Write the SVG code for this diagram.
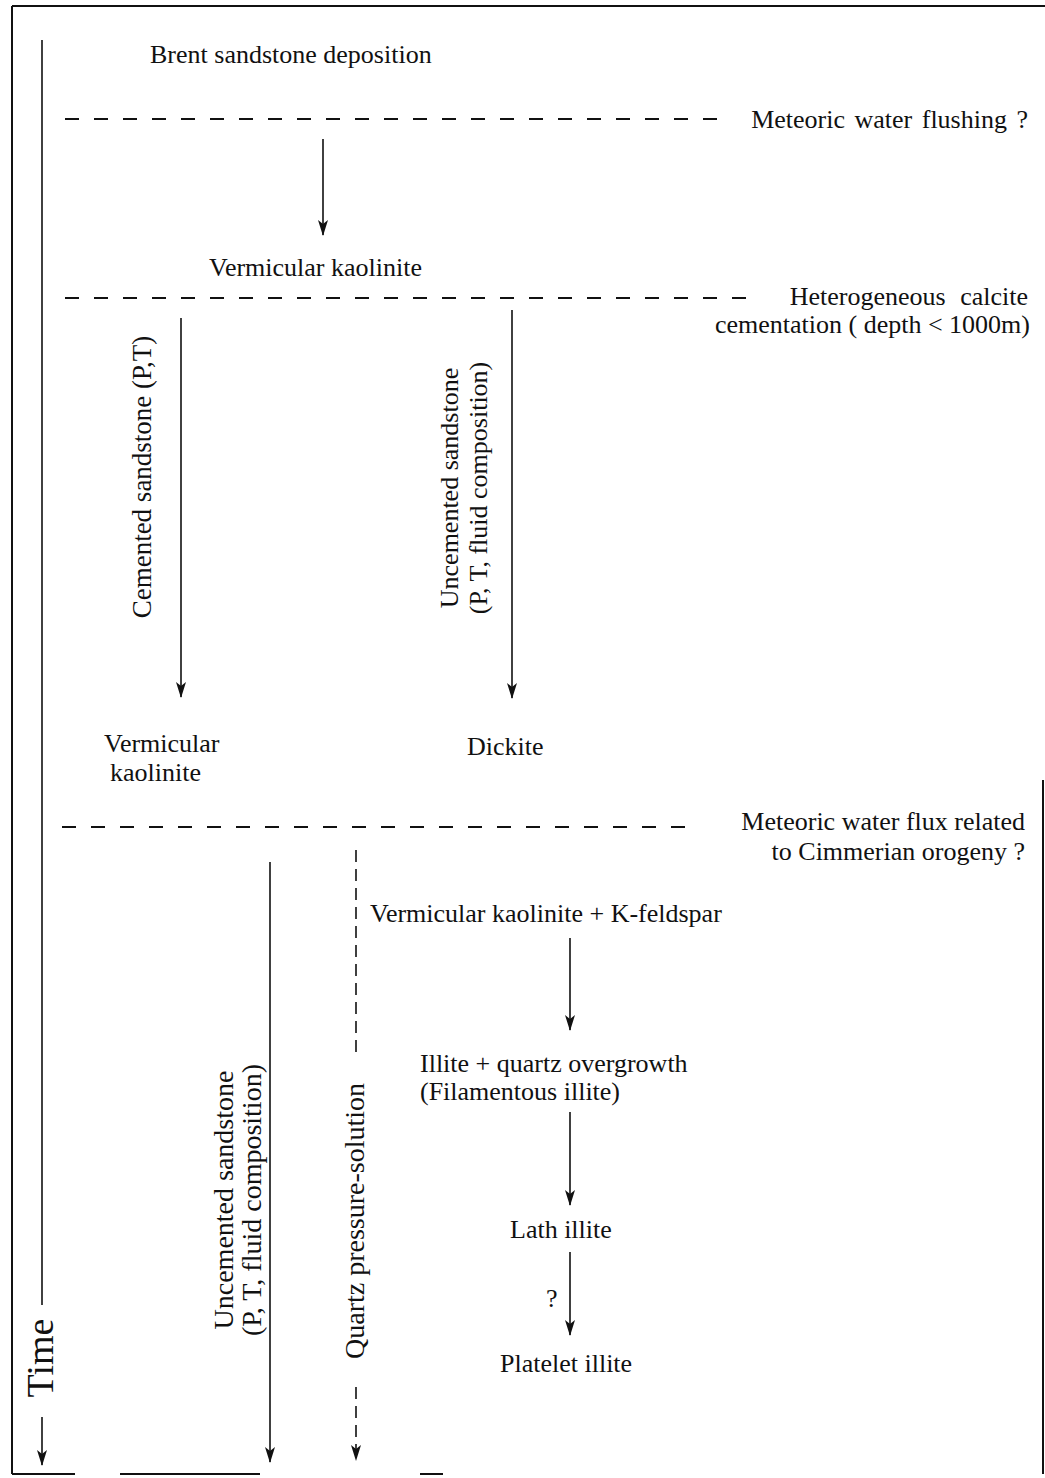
<svg xmlns="http://www.w3.org/2000/svg" width="1045" height="1478" viewBox="0 0 1045 1478">
<style>
.t{font-family:"Liberation Serif","Times New Roman",serif;font-size:26px;fill:#111}
.r{font-size:27px}
.r2{font-size:28px}
.big{font-size:38px}
.ln{stroke:#111;stroke-width:1.6;fill:none}
.dh{stroke:#111;stroke-width:2;fill:none;stroke-dasharray:14 15}
.dv{stroke:#111;stroke-width:1.6;fill:none;stroke-dasharray:12 7}
.fr{stroke:#111;stroke-width:2;fill:none}
</style>
<defs>
<marker id="ah" viewBox="0 0 16 10" refX="15" refY="5" markerWidth="16" markerHeight="10" markerUnits="userSpaceOnUse" orient="auto">
<path d="M0,0 L16,5 L0,10 L4,5 z" fill="#111"/>
</marker>
</defs>
<rect width="1045" height="1478" fill="#fff"/>
<g id="frame">
<path class="fr" d="M12,6 H1045 M12,6 V1474 M1043,780 V1474 M12,1474 H75 M120,1474 H260 M420,1474 H443"/>
</g>
<g id="connectors">
<path class="ln" d="M42,40 V1305"/>
<path class="ln" d="M42,1417 V1465" marker-end="url(#ah)"/>
<path class="dh" d="M65,119 H728"/>
<path class="dh" d="M65,298 H760"/>
<path class="dh" d="M62,827 H692"/>
<path class="ln" d="M323,139 V235" marker-end="url(#ah)"/>
<path class="ln" d="M181,318 V697" marker-end="url(#ah)"/>
<path class="ln" d="M512,310 V698" marker-end="url(#ah)"/>
<path class="ln" d="M270,862 V1462" marker-end="url(#ah)"/>
<path class="dv" d="M356,850 V1055"/>
<path class="dv" d="M356,1387 V1460" marker-end="url(#ah)"/>
<path class="ln" d="M570,938 V1030" marker-end="url(#ah)"/>
<path class="ln" d="M570,1112 V1205" marker-end="url(#ah)"/>
<path class="ln" d="M570,1252 V1335" marker-end="url(#ah)"/>
</g>
<g id="time"><text class="t big" transform="translate(53,1358) rotate(-90)" text-anchor="middle">Time</text></g>
<g id="brent"><text class="t" x="150" y="63">Brent sandstone deposition</text></g>
<g id="meteoric-flushing"><text class="t" x="1028" y="128" text-anchor="end" word-spacing="3">Meteoric water flushing ?</text></g>
<g id="verm1"><text class="t" x="209" y="276">Vermicular kaolinite</text></g>
<g id="calcite">
<text class="t" x="1028" y="305" text-anchor="end" word-spacing="8">Heterogeneous calcite</text>
<text class="t" x="1030" y="333" text-anchor="end">cementation ( depth &lt; 1000m)</text>
</g>
<g id="cemented"><text class="t r" transform="translate(151,477) rotate(-90)" text-anchor="middle">Cemented sandstone (P,T)</text></g>
<g id="uncemented1">
<text class="t" transform="translate(458,488) rotate(-90)" text-anchor="middle">Uncemented sandstone</text>
<text class="t" transform="translate(487,488) rotate(-90)" text-anchor="middle">(P, T, fluid composition)</text>
</g>
<g id="verm2">
<text class="t" x="104" y="752">Vermicular</text>
<text class="t" x="110" y="781">kaolinite</text>
</g>
<g id="dickite"><text class="t" x="467" y="755">Dickite</text></g>
<g id="cimmerian">
<text class="t" x="1025" y="830" text-anchor="end">Meteoric water flux related</text>
<text class="t" x="1025" y="860" text-anchor="end">to Cimmerian orogeny ?</text>
</g>
<g id="uncemented2">
<text class="t r2" transform="translate(233,1200) rotate(-90)" text-anchor="middle">Uncemented sandstone</text>
<text class="t r2" transform="translate(261,1200) rotate(-90)" text-anchor="middle">(P, T, fluid composition)</text>
</g>
<g id="quartz"><text class="t r2" transform="translate(364,1221) rotate(-90)" text-anchor="middle">Quartz pressure-solution</text></g>
<g id="kfeld"><text class="t" x="370" y="922">Vermicular kaolinite + K-feldspar</text></g>
<g id="illite">
<text class="t" x="420" y="1072">Illite + quartz overgrowth</text>
<text class="t" x="420" y="1100">(Filamentous illite)</text>
</g>
<g id="lath"><text class="t" x="510" y="1238">Lath illite</text></g>
<g id="q"><text class="t" x="546" y="1307">?</text></g>
<g id="platelet"><text class="t" x="500" y="1372">Platelet illite</text></g>
</svg>
